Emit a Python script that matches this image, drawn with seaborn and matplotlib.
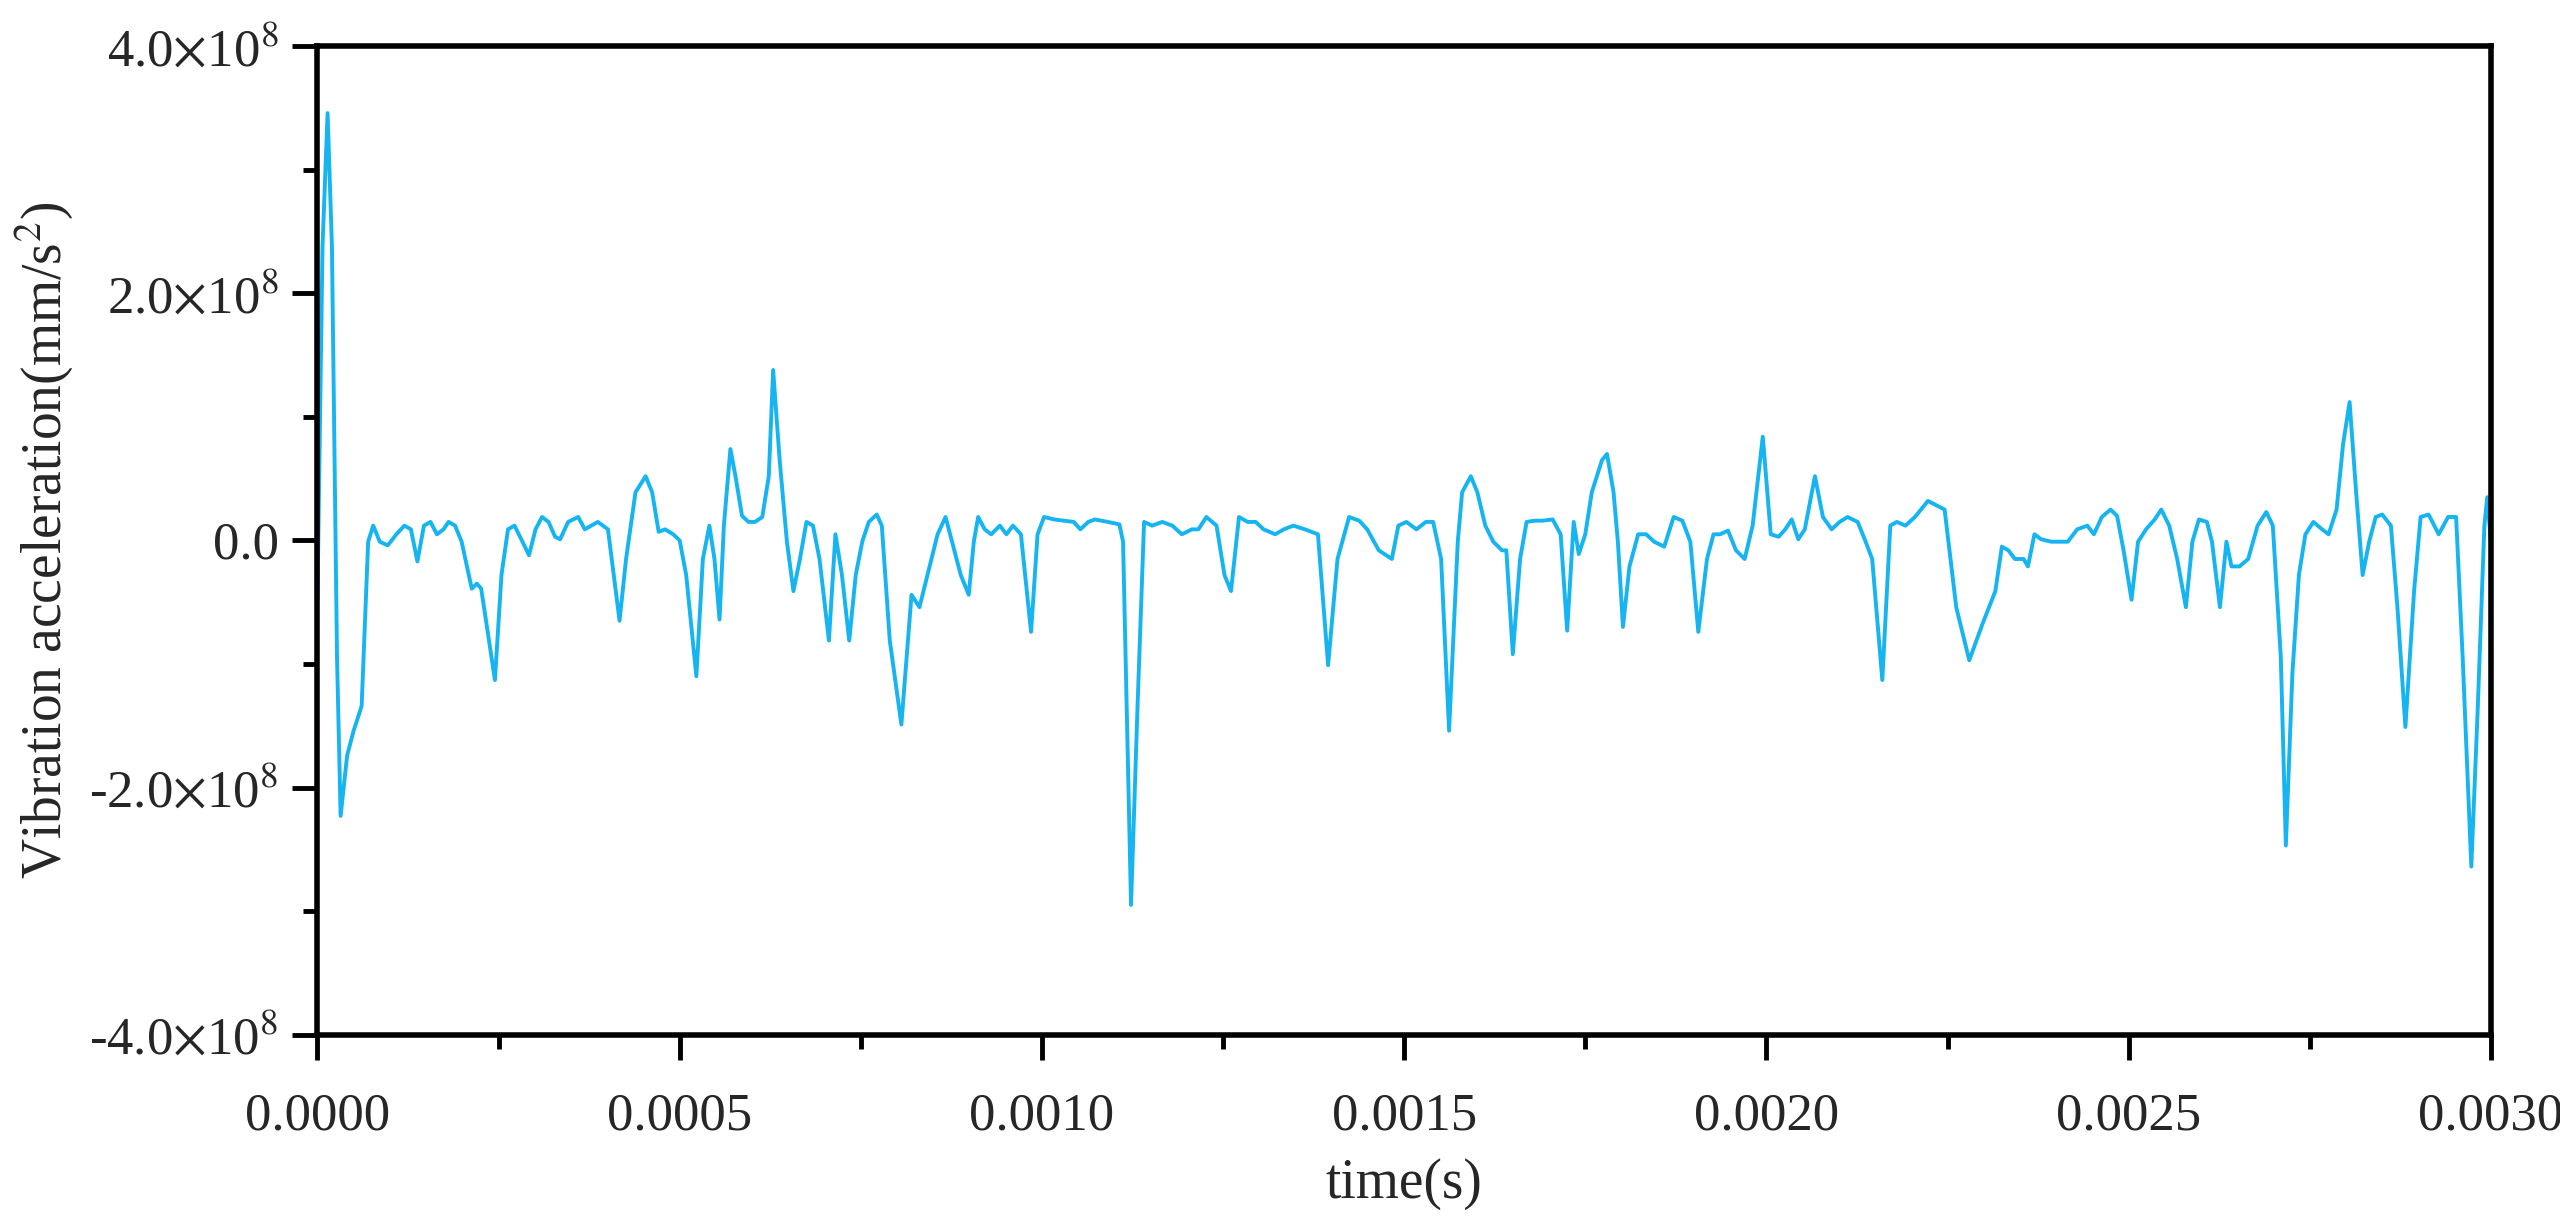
import numpy as np
import matplotlib
matplotlib.use("Agg")
import matplotlib.pyplot as plt
from matplotlib.ticker import MultipleLocator, FixedLocator
import seaborn as sns
import pandas as pd

# time in microseconds, acceleration in 1e8 mm/s^2
time_us = [0,7,14,20,27,32,41,50,61,70,77,86,97,109,120,129,138,147,156,165,174,181,190,199,213,220,226,245,254,263,272,283,292,301,310,319,328,335,346,360,369,378,387,401,417,426,439,453,462,471,480,491,500,509,523,532,541,548,555,561,570,577,586,595,604,614,623,629,638,648,657,666,675,684,693,706,715,724,734,743,752,761,772,779,790,806,820,831,842,856,867,876,888,899,906,912,921,930,942,951,960,971,985,994,1003,1017,1030,1044,1053,1064,1073,1091,1107,1112,1123,1132,1141,1152,1166,1180,1193,1207,1216,1227,1241,1252,1261,1272,1284,1295,1306,1322,1334,1347,1363,1381,1395,1408,1424,1438,1449,1465,1483,1492,1503,1517,1530,1540,1551,1562,1574,1580,1592,1601,1612,1623,1635,1641,1650,1660,1669,1680,1691,1705,1716,1725,1734,1741,1750,1759,1773,1780,1789,1795,1802,1811,1823,1834,1845,1859,1872,1884,1895,1906,1918,1927,1936,1947,1958,1970,1981,1995,2006,2017,2026,2035,2044,2053,2067,2078,2090,2101,2112,2126,2137,2146,2160,2171,2180,2192,2205,2223,2246,2262,2280,2298,2316,2325,2334,2343,2355,2361,2370,2379,2393,2407,2416,2429,2443,2452,2463,2475,2484,2493,2504,2513,2524,2536,2545,2556,2567,2579,2588,2597,2608,2615,2626,2635,2642,2653,2665,2678,2690,2699,2710,2717,2726,2735,2744,2755,2767,2776,2787,2796,2805,2814,2823,2832,2841,2850,2862,2871,2882,2894,2903,2914,2928,2941,2952,2961,2973,2982,2991,2995,3000]
accel_e8 = [-0.48,2.38,3.46,2.38,-0.94,-2.23,-1.74,-1.54,-1.34,-0.01,0.12,-0.01,-0.04,0.05,0.12,0.09,-0.17,0.12,0.15,0.05,0.09,0.15,0.12,-0.01,-0.39,-0.35,-0.39,-1.13,-0.28,0.09,0.12,-0.01,-0.12,0.09,0.19,0.15,0.03,0.01,0.15,0.19,0.09,0.12,0.15,0.09,-0.65,-0.15,0.39,0.52,0.39,0.07,0.09,0.05,0.0,-0.28,-1.10,-0.15,0.12,-0.15,-0.64,0.12,0.74,0.52,0.20,0.15,0.15,0.19,0.52,1.38,0.65,-0.01,-0.41,-0.15,0.15,0.12,-0.15,-0.81,0.05,-0.28,-0.81,-0.28,-0.01,0.15,0.21,0.12,-0.81,-1.49,-0.44,-0.54,-0.28,0.05,0.19,-0.01,-0.28,-0.44,-0.01,0.19,0.09,0.05,0.12,0.05,0.12,0.05,-0.74,0.05,0.19,0.17,0.16,0.15,0.09,0.15,0.17,0.15,0.13,-0.01,-2.95,-1.34,0.15,0.12,0.15,0.12,0.05,0.09,0.09,0.19,0.12,-0.28,-0.41,0.19,0.15,0.15,0.09,0.05,0.09,0.12,0.09,0.05,-1.01,-0.15,0.19,0.16,0.09,-0.08,-0.15,0.12,0.15,0.09,0.15,0.15,-0.15,-1.54,-0.01,0.39,0.52,0.39,0.12,-0.01,-0.08,-0.08,-0.92,-0.15,0.15,0.16,0.16,0.17,0.05,-0.73,0.15,-0.11,0.05,0.39,0.65,0.70,0.39,-0.01,-0.70,-0.21,0.05,0.05,-0.01,-0.05,0.19,0.16,-0.01,-0.74,-0.15,0.05,0.05,0.08,-0.08,-0.15,0.12,0.84,0.05,0.03,0.09,0.17,0.01,0.09,0.52,0.19,0.09,0.15,0.19,0.15,-0.01,-0.15,-1.13,0.12,0.15,0.12,0.19,0.32,0.25,-0.54,-0.97,-0.68,-0.41,-0.05,-0.08,-0.15,-0.15,-0.21,0.05,0.01,-0.01,-0.01,-0.01,0.09,0.12,0.05,0.19,0.25,0.20,-0.08,-0.48,-0.01,0.09,0.17,0.25,0.12,-0.15,-0.54,-0.01,0.17,0.15,-0.01,-0.54,-0.01,-0.21,-0.21,-0.15,0.12,0.23,0.12,-0.94,-2.47,-1.08,-0.28,0.05,0.15,0.09,0.05,0.25,0.78,1.12,0.39,-0.28,-0.01,0.19,0.21,0.12,-0.54,-1.51,-0.41,0.19,0.21,0.05,0.19,0.19,-0.94,-2.64,-1.34,0.12,0.35,-0.01]

x_ticks = [0.0, 0.0005, 0.0010, 0.0015, 0.0020, 0.0025, 0.0030]
x_labels = ["0.0000", "0.0005", "0.0010", "0.0015", "0.0020", "0.0025", "0.0030"]
y_ticks = [-4e8, -2e8, 0, 2e8, 4e8]
y_labels = [r"-4.0$\times$10$^{8}$", r"-2.0$\times$10$^{8}$", "0.0", r"2.0$\times$10$^{8}$", r"4.0$\times$10$^{8}$"]

df = pd.DataFrame({"t": np.array(time_us) * 1e-6, "a": np.array(accel_e8) * 1e8})

sns.set_style("white")
plt.rcParams['font.family'] = ['Liberation Serif', 'DejaVu Serif']
plt.rcParams['mathtext.fontset'] = 'stix'

fig = plt.figure(figsize=(25.6, 12.2), dpi=100)
ax = fig.add_axes([0.124, 0.152, 0.849, 0.81])
sns.lineplot(data=df, x="t", y="a", ax=ax, color="#16B4F0", linewidth=2.8, estimator=None, sort=False)

ax.set_xlim(0, 0.003)
ax.set_ylim(-4e8, 4e8)
ax.xaxis.set_major_locator(FixedLocator(x_ticks))
ax.set_xticklabels(x_labels)
ax.xaxis.set_minor_locator(MultipleLocator(0.00025))
ax.yaxis.set_major_locator(FixedLocator(y_ticks))
ax.set_yticklabels(y_labels)
ax.yaxis.set_minor_locator(MultipleLocator(1e8))
ax.tick_params(which='major', direction='out', length=18, width=3.5, labelsize=38, pad=10, color='black', bottom=True, left=True)
ax.tick_params(which='minor', direction='out', length=10, width=3.5, color='black', bottom=True, left=True)
ax.tick_params(axis='x', which='major', pad=24)
for s in ax.spines.values():
    s.set_linewidth(4)
    s.set_color('black')
ax.set_xlabel("time(s)", fontsize=40, labelpad=12)
ax.set_ylabel(r"Vibration acceleration(mm/s$^{2}$)", fontsize=40, labelpad=10)
fig.savefig("out.png", dpi=100)
